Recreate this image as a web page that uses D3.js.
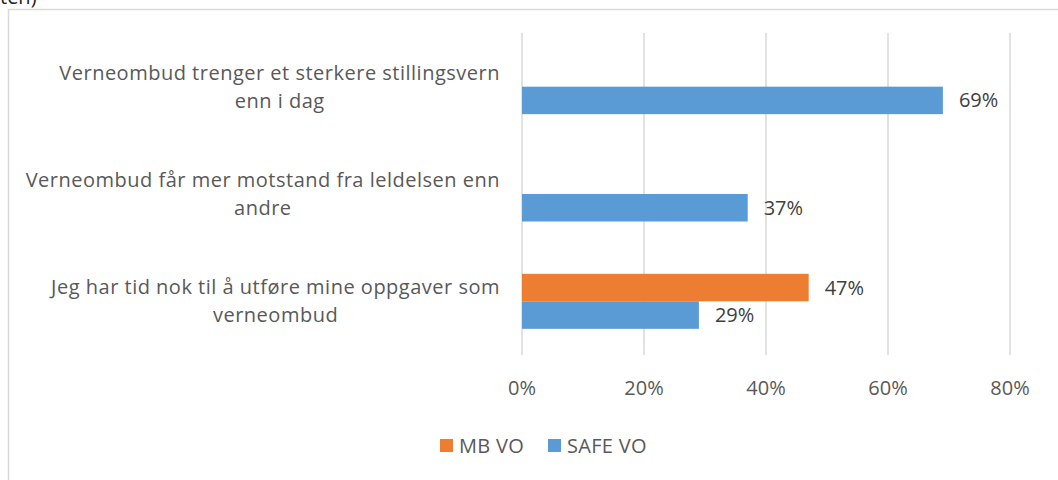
<!DOCTYPE html>
<html lang="no">
<head>
<meta charset="UTF-8">
<title>Verneombud</title>
<script src="https://d3js.org/d3.v7.min.js"></script>
<style>
  body { margin: 0; background: #fff; overflow: hidden; }
  svg { display: block; font-family: 'Open Sans', 'Liberation Sans', sans-serif; }
</style>
</head>
<body>
<div id="chart"></div>
<script>
    // Data
    const categories = [
        "Verneombud trenger et sterkere stillingsvern\nenn i dag",
        "Verneombud får mer motstand fra leldelsen enn\nandre",
        "Jeg har tid nok til å utføre mine oppgaver som\nverneombud"
    ];
    const seriesNames = ["MB VO", "SAFE VO"];
    const mbValues = [null, null, 0.47];
    const safeValues = [0.69, 0.37, 0.29];
    const xTicks = [0, 0.2, 0.4, 0.6, 0.8];
    const colors = ["#ED7D31", "#5B9BD5"];

    const width = 1058, height = 480;
    const plot = { left: 522, right: 1010, top: 33, bottom: 355 };
    const fs = 20;

    const svg = d3.select("#chart").append("svg")
        .attr("width", width).attr("height", height);

    // cropped text line above the chart frame
    svg.append("text").attr("x", 0).attr("y", 4)
        .attr("font-size", fs).attr("fill", "#222").text("ten)");

    // chart frame
    svg.append("rect")
        .attr("x", 8.5).attr("y", 9.5)
        .attr("width", 1100).attr("height", 500)
        .attr("fill", "none").attr("stroke", "#d9d9d9").attr("stroke-width", 1.5);

    const x = d3.scaleLinear().domain([0, 0.8]).range([plot.left, plot.right]);
    const y = d3.scaleBand().domain(d3.range(categories.length))
        .range([plot.top, plot.bottom]);
    const barH = 27.5;

    // gridlines
    svg.append("g").selectAll("line").data(xTicks).join("line")
        .attr("x1", d => x(d)).attr("x2", d => x(d))
        .attr("y1", plot.top).attr("y2", plot.bottom)
        .attr("stroke", "#d9d9d9").attr("stroke-width", 1.5);

    // x tick labels
    svg.append("g").selectAll("text").data(xTicks).join("text")
        .attr("x", d => x(d)).attr("y", 395)
        .attr("text-anchor", "middle")
        .attr("font-size", fs).attr("fill", "#595959")
        .text(d3.format(".0%"));

    // category labels: centred lines, block right-aligned at x=500
    const labels = svg.append("g").selectAll("text").data(categories).join("text")
        .attr("text-anchor", "middle")
        .attr("font-size", fs).attr("letter-spacing", 0.5).attr("fill", "#595959");
    labels.each(function(d, i) {
        const lines = d.split("\n");
        const cy = y(i) + y.bandwidth() / 2;
        const t = d3.select(this);
        const spans = t.selectAll("tspan").data(lines).join("tspan")
            .attr("y", (l, j) => cy - 14 + j * 28 + 7)
            .text(l => l);
        let maxW = 0;
        spans.each(function() { maxW = Math.max(maxW, this.getComputedTextLength()); });
        spans.attr("x", 500 - maxW / 2);
    });

    // bars: MB above the band centre, SAFE below
    const series = [mbValues, safeValues];
    series.forEach((vals, s) => {
        const pts = vals.map((v, i) => ({ v, i })).filter(d => d.v != null);
        const g = svg.append("g");
        const offset = s === 0 ? -barH : 0;
        g.selectAll("rect").data(pts).join("rect")
            .attr("x", x(0))
            .attr("y", d => y(d.i) + y.bandwidth() / 2 + offset)
            .attr("width", d => x(d.v) - x(0))
            .attr("height", barH)
            .attr("fill", colors[s]);
        g.selectAll("text").data(pts).join("text")
            .attr("x", d => x(d.v) + 16)
            .attr("y", d => y(d.i) + y.bandwidth() / 2 + offset + barH / 2 + 7)
            .attr("font-size", fs).attr("fill", "#404040")
            .text(d => d3.format(".0%")(d.v));
    });

    // legend
    const legendX = [440, 548];
    const leg = svg.append("g").selectAll("g").data(seriesNames).join("g")
        .attr("transform", (d, i) => `translate(${legendX[i]},439)`);
    leg.append("rect").attr("width", 13).attr("height", 13)
        .attr("fill", (d, i) => colors[i]);
    leg.append("text").attr("x", 19).attr("y", 13.5)
        .attr("font-size", fs).attr("letter-spacing", 0.3).attr("fill", "#595959")
        .text(d => d);
</script>
</body>
</html>
